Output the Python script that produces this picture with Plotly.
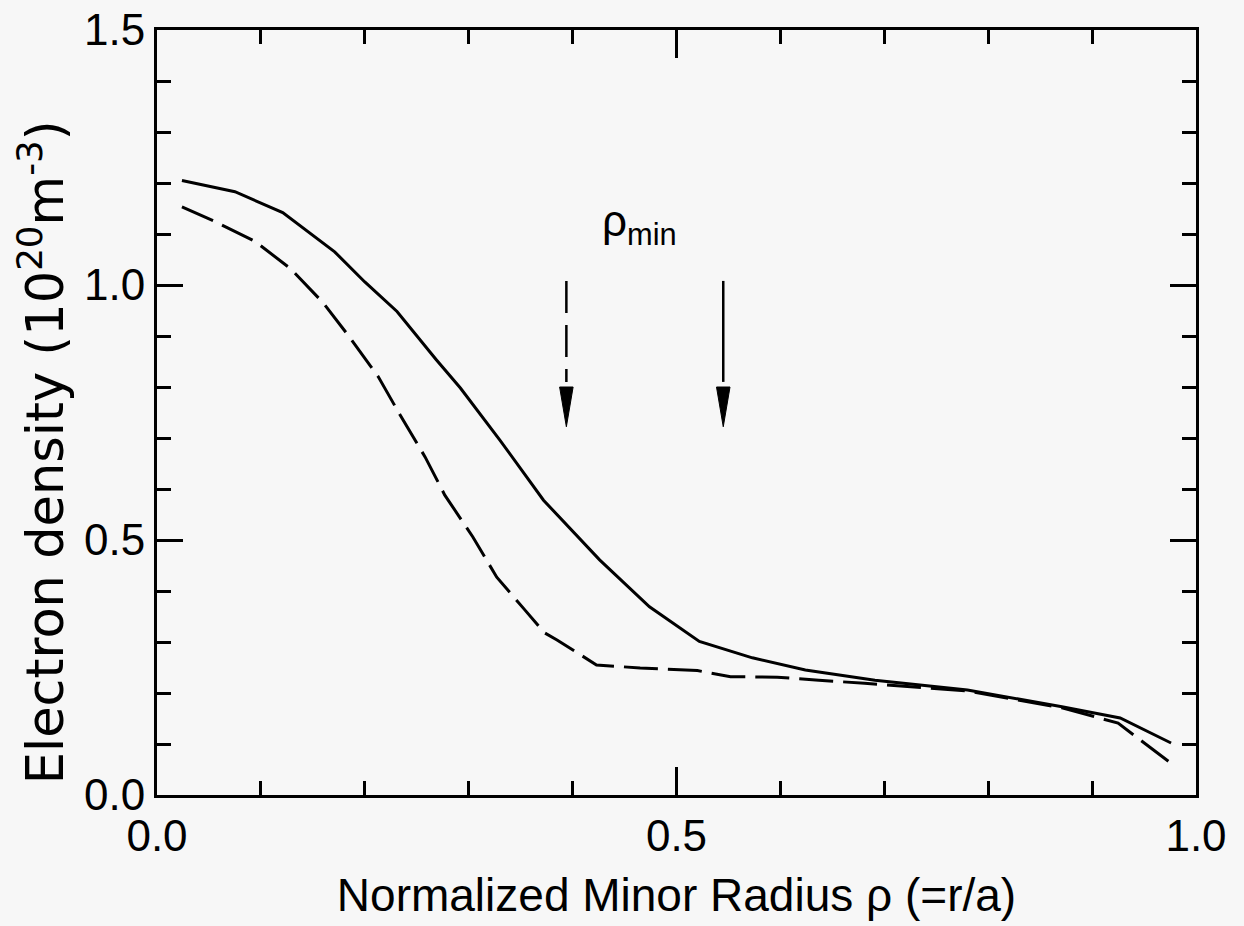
import plotly.graph_objects as go

# Solid profile
rho_solid = [0.024, 0.075, 0.121, 0.171, 0.200, 0.231, 0.269, 0.292, 0.330, 0.372,
             0.426, 0.474, 0.522, 0.573, 0.624, 0.691, 0.780, 0.871, 0.927, 0.976]
ne_solid = [1.205, 1.183, 1.142, 1.065, 1.006, 0.948, 0.853, 0.798, 0.696, 0.578,
            0.461, 0.369, 0.301, 0.269, 0.245, 0.225, 0.206, 0.173, 0.151, 0.102]

# Dashed profile
rho_dashed = [0.024, 0.054, 0.094, 0.128, 0.160, 0.186, 0.213, 0.234, 0.258, 0.277,
              0.304, 0.327, 0.354, 0.373, 0.385, 0.423, 0.465, 0.520, 0.552, 0.597,
              0.637, 0.681, 0.780, 0.871, 0.925, 0.978]
ne_dashed = [1.153, 1.126, 1.086, 1.033, 0.965, 0.896, 0.820, 0.745, 0.663, 0.588,
             0.506, 0.427, 0.363, 0.318, 0.304, 0.255, 0.249, 0.244, 0.232, 0.231,
             0.225, 0.219, 0.204, 0.171, 0.141, 0.059]

# rho_min arrows
arrow_x = [0.394, 0.545]
arrow_style = ["dash", "solid"]
arrow_top = 1.008
arrow_base = 0.80
arrow_tip = 0.722
arrow_halfwidth = 0.0065

x_ticks = [0.0, 0.5, 1.0]
x_ticklabels = ["0.0", "0.5", "1.0"]
y_ticks = [0.0, 0.5, 1.0, 1.5]
y_ticklabels = ["0.0", "0.5", "1.0", "1.5"]

FONT = "Liberation Sans, Arial, Helvetica, sans-serif"
WIDE_FONT = "DejaVu Sans, Liberation Sans, sans-serif"
BG = "#f7f7f7"

fig = go.Figure()
fig.add_trace(go.Scatter(x=rho_solid, y=ne_solid, mode="lines",
                         line=dict(color="black", width=3), showlegend=False))
fig.add_trace(go.Scatter(x=rho_dashed, y=ne_dashed, mode="lines",
                         line=dict(color="black", width=3, dash="34px,10px"), showlegend=False))

shapes = []
for xa, st in zip(arrow_x, arrow_style):
    shapes.append(dict(type="line", xref="x", yref="y", x0=xa, x1=xa,
                       y0=arrow_top, y1=arrow_base + 0.01,
                       line=dict(color="black", width=2.5,
                                 dash="32px,12px" if st == "dash" else "solid")))
    shapes.append(dict(type="path", xref="x", yref="y",
                       path=f"M {xa - arrow_halfwidth},{arrow_base} L {xa + arrow_halfwidth},{arrow_base} L {xa},{arrow_tip} Z",
                       fillcolor="black", line=dict(color="black", width=1)))

annotations = [
    dict(x=0.464, y=1.119, xref="x", yref="y", text="ρ<sub>min</sub>", showarrow=False,
         xanchor="center", yanchor="middle", font=dict(family=FONT, size=44, color="black")),
    dict(x=-0.1107, y=0.448, xref="paper", yref="paper", textangle=-90,
         text="Electron density (10<sup>20</sup>m<sup>-3</sup>)", showarrow=False,
         xanchor="center", yanchor="middle", font=dict(family=WIDE_FONT, size=51, color="black")),
]

fig.update_layout(
    width=1244, height=926,
    paper_bgcolor=BG, plot_bgcolor=BG,
    margin=dict(l=157, r=48, t=30, b=131),
    font=dict(family=FONT, size=44, color="black"),
    shapes=shapes, annotations=annotations,
    xaxis=dict(range=[0, 1], tickvals=x_ticks, ticktext=x_ticklabels,
               ticks="inside", ticklen=28, tickwidth=2.5, tickcolor="black",
               minor=dict(dtick=0.1, ticks="inside", ticklen=14, tickwidth=2.5, tickcolor="black"),
               showline=True, linewidth=3, linecolor="black", mirror="ticks",
               showgrid=False, zeroline=False, automargin=False, ticklabeloverflow="allow",
               tickfont=dict(size=44),
               title=dict(text="Normalized Minor Radius ρ (=r/a)", font=dict(size=46), standoff=21)),
    yaxis=dict(range=[0, 1.5], tickvals=y_ticks, ticktext=y_ticklabels,
               ticks="inside", ticklen=26, tickwidth=2.5, tickcolor="black",
               minor=dict(dtick=0.1, ticks="inside", ticklen=14, tickwidth=2.5, tickcolor="black"),
               showline=True, linewidth=3, linecolor="black", mirror="ticks",
               showgrid=False, zeroline=False, automargin=False, ticklabeloverflow="allow",
               tickfont=dict(size=44)),
)

fig.write_html("out.html", config={"displayModeBar": False},
               post_script="document.body.style.margin='0';document.body.style.background='#f7f7f7';")
